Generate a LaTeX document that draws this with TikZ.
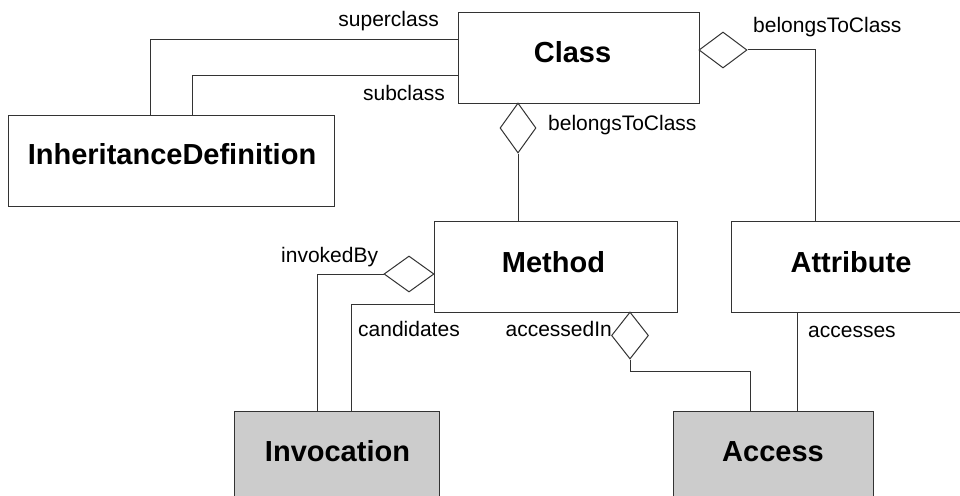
\documentclass[tikz,border=0pt]{standalone}
\usepackage{fontspec}
\setmainfont{Liberation Sans}
\usetikzlibrary{shapes.geometric}
\definecolor{linec}{HTML}{333333}
\definecolor{grayfill}{HTML}{CCCCCC}
\tikzset{
  umlbox/.style={draw=linec, line width=1pt, rectangle, inner sep=0pt, fill=white},
  grayb/.style={umlbox, fill=grayfill},
  title/.style={anchor=base, inner sep=0pt, font=\fontsize{29}{34}\selectfont\bfseries},
  lab/.style={inner sep=0pt, font=\fontsize{21}{25}\selectfont},
  conn/.style={draw=linec, line width=1pt},
  dia/.style={draw=linec, line width=1pt, shape=diamond, inner sep=0pt, fill=white},
}
\begin{document}
\begin{tikzpicture}[x=1pt, y=-1pt]
\useasboundingbox (0,0) rectangle (960,495);
\clip (0,0) rectangle (960,495);
% boxes
\node[umlbox, minimum width=241pt, minimum height=90pt] (class) at (578.5,58) {};
\node[umlbox, minimum width=326pt, minimum height=91pt] (inh) at (171,160.5) {};
\node[umlbox, minimum width=243pt, minimum height=91pt] (method) at (555.5,266.5) {};
\node[umlbox, minimum width=240pt, minimum height=91pt] (attr) at (851,266.5) {};
\node[grayb, minimum width=205pt, minimum height=91pt] (inv) at (336.5,456.5) {};
\node[grayb, minimum width=200pt, minimum height=91pt] (acc) at (773,456.5) {};
% titles
\node[title] (tclass) at ([xshift=-6pt, yshift=-50pt]class.north) {Class};
\node[title] (tinh) at ([xshift=1pt, yshift=-50pt]inh.north) {InheritanceDefinition};
\node[title] (tmethod) at ([xshift=-2pt, yshift=-52pt]method.north) {Method};
\node[title] (tattr) at ([yshift=-52pt]attr.north) {Attribute};
\node[title] (tinv) at ([xshift=1pt, yshift=-51pt]inv.north) {Invocation};
\node[title] (tacc) at ([yshift=-51pt]acc.north) {Access};
% diamonds
\node[dia, minimum width=48pt, minimum height=36pt] (d1) at (723,50) {};
\node[dia, minimum width=36pt, minimum height=50pt] (d2) at (518,128) {};
\node[dia, minimum width=50pt, minimum height=36pt] (d3) at (409,274) {};
\node[dia, minimum width=37pt, minimum height=47pt] (d4) at (630,335.5) {};
% connectors
\draw[conn] (class.west |- 0,40) -| (inh.north -| 150,0);
\draw[conn] (class.west |- 0,75) -| (inh.north -| 192,0);
\draw[conn] (d1.east) -| (attr.north -| 815,0);
\draw[conn] (d2.south) -- (method.north -| d2.south);
\draw[conn] (d3.west) -| (inv.north -| 317,0);
\draw[conn] (method.west |- 0,304) -| (inv.north -| 351,0);
\draw[conn] (d4.south) -- ++(0,12) -| (acc.north -| 750,0);
\draw[conn] (attr.south -| 797,0) -- (acc.north -| 797,0);
% labels
\node[lab, anchor=base east] (lsup) at (439,27) {superclass};
\node[lab, anchor=base east] (lsub) at (445,100) {subclass};
\node[lab, anchor=base west] (lbtc1) at (753,33) {belongsToClass};
\node[lab, anchor=base west] (lbtc2) at (548,130) {belongsToClass};
\node[lab, anchor=base west] (linv) at (281,262) {invokedBy};
\node[lab, anchor=base west] (lcand) at (358,336.5) {candidates};
\node[lab, anchor=base east] (lacc) at (612,336.5) {accessedIn};
\node[lab, anchor=base west] (lacs) at (808,337.5) {accesses};
\end{tikzpicture}
\end{document}
